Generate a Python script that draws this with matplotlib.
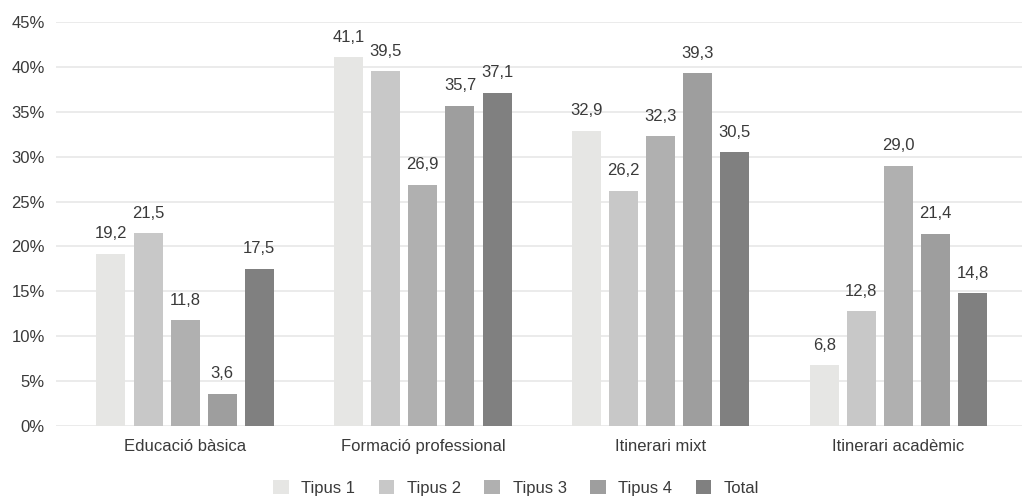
import matplotlib.pyplot as plt
import numpy as np

categories = ['Educació bàsica', 'Formació professional', 'Itinerari mixt', 'Itinerari acadèmic']
series = ['Tipus 1', 'Tipus 2', 'Tipus 3', 'Tipus 4', 'Total']
tipus1 = [19.2, 41.1, 32.9, 6.8]
tipus2 = [21.5, 39.5, 26.2, 12.8]
tipus3 = [11.8, 26.9, 32.3, 29.0]
tipus4 = [3.6, 35.7, 39.3, 21.4]
total = [17.5, 37.1, 30.5, 14.8]
yticks = [0, 5, 10, 15, 20, 25, 30, 35, 40, 45]

values = [tipus1, tipus2, tipus3, tipus4, total]
colors = ['#e6e6e4', '#c8c8c8', '#b0b0b0', '#9e9e9e', '#808080']

plt.rcParams['font.family'] = ['Liberation Sans', 'DejaVu Sans']
text_color = '#3a3a3a'
fs = 12

fig = plt.figure(figsize=(10.22, 4.96), dpi=100)
ax = fig.add_axes([0.0548, 0.141, 0.9452, 0.8146])

x = np.arange(len(categories))
step = 0.156
width = 0.122
for i, (name, vals) in enumerate(zip(series, values)):
    pos = x + (i - 2) * step
    bars = ax.bar(pos, vals, width, color=colors[i], label=name, zorder=2)
    for b, v in zip(bars, vals):
        ax.annotate(f'{v:.1f}'.replace('.', ','), (b.get_x() + b.get_width() / 2, v),
                    xytext=(0, 9), textcoords='offset points', ha='center', va='bottom',
                    fontsize=fs, color=text_color)

ax.set_xlim(-0.543, 3.52)
ax.set_ylim(0, 45)
ax.set_yticks(yticks)
ax.set_yticklabels([f'{t}%' for t in yticks])
ax.set_xticks(x)
ax.set_xticklabels(categories)
ax.yaxis.grid(True, color='#e8e8e8', linewidth=1.2, zorder=0)
ax.set_axisbelow(True)
for s in ax.spines.values():
    s.set_visible(False)
ax.tick_params(axis='both', length=0, labelsize=fs, labelcolor=text_color)
ax.tick_params(axis='x', pad=9)
ax.tick_params(axis='y', pad=8)

fig.legend(loc='lower center', bbox_to_anchor=(0.505, -0.03), ncol=5, frameon=False,
           fontsize=fs, handlelength=0.95, handleheight=0.95, columnspacing=1.4,
           handletextpad=0.75, labelcolor=text_color)

fig.savefig('out.png', dpi=100)
